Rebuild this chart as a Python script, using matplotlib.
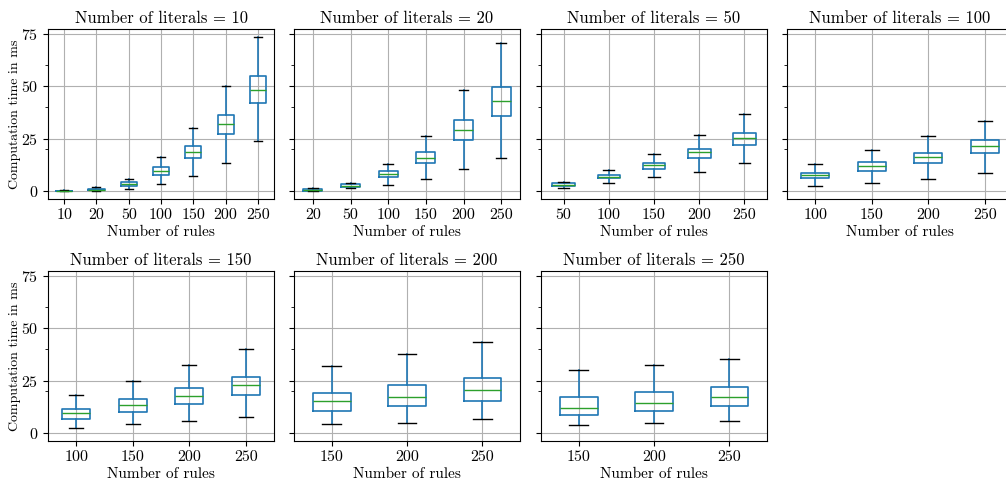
import matplotlib
matplotlib.use('Agg')
import matplotlib.pyplot as plt
from matplotlib.ticker import FixedLocator

# Box statistics (ms), one list per panel
literals = [10, 20, 50, 100, 150, 200, 250]
rules = [
    [10, 20, 50, 100, 150, 200, 250],
    [20, 50, 100, 150, 200, 250],
    [50, 100, 150, 200, 250],
    [100, 150, 200, 250],
    [100, 150, 200, 250],
    [150, 200, 250],
    [150, 200, 250],
]
whislo = [
    [0.1, 0.2, 1.1, 3.6, 7.3, 13.4, 24.2],
    [0.1, 1.4, 3.2, 5.7, 10.8, 16.0],
    [1.7, 3.8, 7.0, 9.2, 13.3],
    [2.8, 4.1, 6.0, 9.0],
    [2.7, 4.3, 5.7, 7.7],
    [4.3, 5.2, 6.9],
    [3.8, 4.9, 5.8],
]
q1 = [
    [0.2, 0.6, 2.7, 7.9, 15.8, 27.2, 42.1],
    [0.3, 2.2, 6.8, 13.4, 24.5, 35.9],
    [2.7, 6.2, 10.9, 16.0, 22.0],
    [6.3, 9.7, 13.4, 18.2],
    [7.1, 10.4, 14.1, 18.3],
    [10.9, 12.9, 15.3],
    [9.0, 10.9, 13.1],
]
med = [
    [0.3, 0.8, 3.6, 9.5, 18.7, 32.1, 48.4],
    [0.7, 2.8, 8.1, 16.1, 29.4, 42.9],
    [3.3, 7.1, 12.5, 18.7, 25.5],
    [7.8, 12.0, 16.5, 21.7],
    [9.6, 13.6, 18.0, 22.9],
    [15.2, 17.5, 20.7],
    [12.3, 14.7, 17.2],
]
q3 = [
    [0.4, 1.0, 4.6, 11.6, 21.5, 36.6, 54.7],
    [1.1, 3.5, 9.5, 18.8, 34.2, 49.7],
    [3.8, 7.9, 13.6, 20.4, 28.0],
    [9.0, 13.8, 18.5, 24.4],
    [11.7, 16.3, 21.5, 27.0],
    [19.4, 22.9, 26.5],
    [17.5, 19.6, 22.1],
]
whishi = [
    [0.6, 1.9, 6.0, 16.6, 30.1, 50.3, 73.6],
    [1.4, 4.1, 13.0, 26.6, 48.4, 70.4],
    [4.7, 10.3, 17.6, 26.9, 36.7],
    [13.0, 19.8, 26.3, 33.5],
    [18.5, 24.9, 32.4, 40.1],
    [31.9, 37.7, 43.7],
    [30.0, 32.5, 35.5],
]

plt.rcParams['font.family'] = 'serif'
plt.rcParams['font.serif'] = ['cmr10', 'DejaVu Serif']
plt.rcParams['mathtext.fontset'] = 'cm'
plt.rcParams['axes.formatter.use_mathtext'] = True
plt.rcParams['font.size'] = 10

fig = plt.figure(figsize=(10.06, 4.83), dpi=100)
W, H = 1006, 483
lefts = [48, 294, 541, 787]
tops = [29, 271]
aw, ah = 226, 170

axes = []
for k, lit in enumerate(literals):
    r, c = divmod(k, 4)
    rect = [lefts[c] / W, (H - tops[r] - ah) / H, aw / W, ah / H]
    ax = fig.add_axes(rect, sharey=axes[0] if axes else None)
    axes.append(ax)

    stats = []
    for i, lab in enumerate(rules[k]):
        stats.append(dict(label=str(lab), whislo=whislo[k][i], q1=q1[k][i],
                          med=med[k][i], q3=q3[k][i], whishi=whishi[k][i],
                          fliers=[]))
    ax.bxp(stats, widths=0.5, showfliers=False,
           boxprops=dict(color='#1f77b4', linewidth=1.2),
           whiskerprops=dict(color='#1f77b4', linewidth=1.2),
           capprops=dict(color='k', linewidth=1.0),
           medianprops=dict(color='#2ca02c', linewidth=1.0))
    ax.grid(True, color='#b0b0b0', linewidth=0.8)
    ax.set_axisbelow(True)
    ax.set_title(f'Number of literals = {lit}', fontsize=12, pad=4)
    ax.set_xlabel('Number of rules', fontsize=11, labelpad=2)
    ax.set_ylim(-3.6, 77.3)
    ax.set_yticks([0, 25, 50, 75])
    ax.yaxis.set_minor_locator(FixedLocator([20, 40, 60]))
    ax.tick_params(axis='both', labelsize=11.5)
    if c == 0:
        ax.set_ylabel('Computation time in ms', fontsize=10, labelpad=0)
    else:
        ax.tick_params(axis='y', labelleft=False)

fig.savefig('out.png', dpi=100)
